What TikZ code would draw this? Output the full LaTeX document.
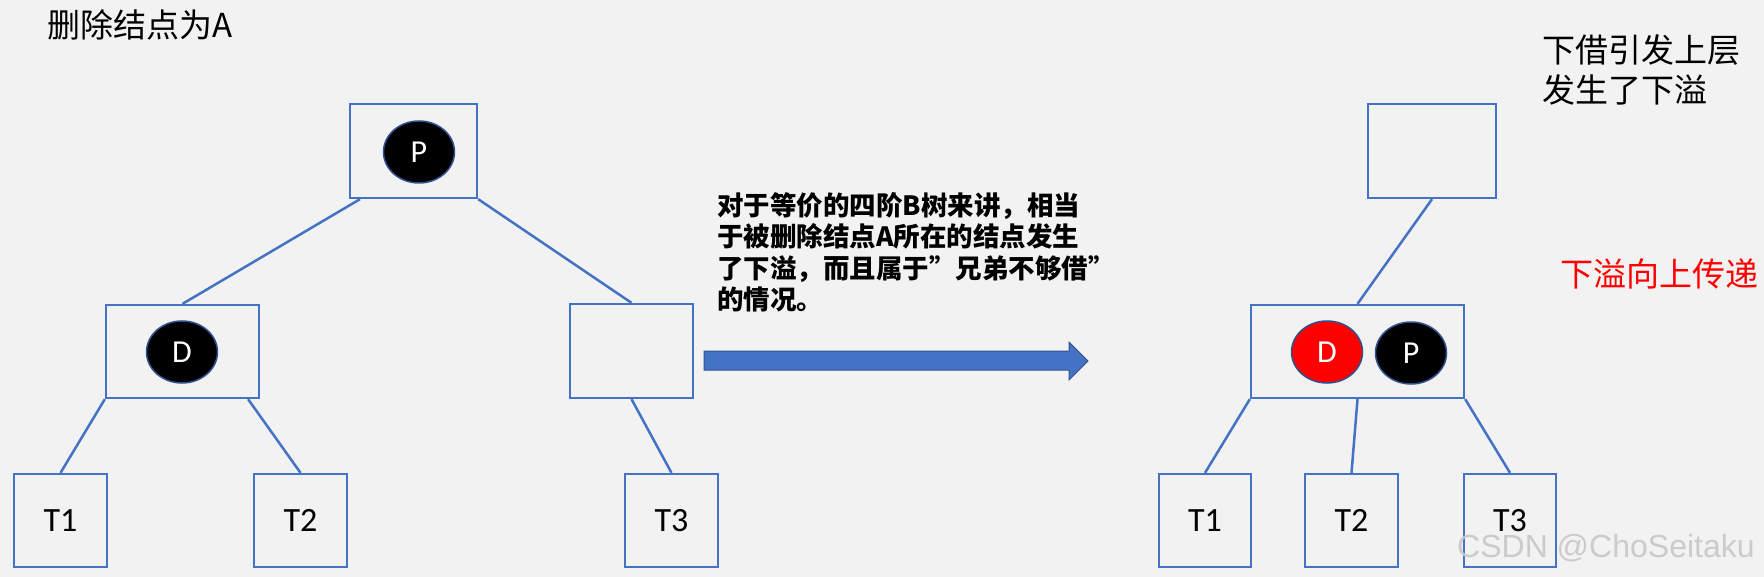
\documentclass[tikz,border=0pt]{standalone}
\usepackage{fontspec}
\setmainfont{Carlito}
\newfontfamily\cjk{Noto Sans CJK SC}
\newfontfamily\wmfont{Liberation Sans}
\usepackage{xcolor}
\definecolor{btbg}{HTML}{F2F2F2}
\definecolor{btblue}{HTML}{4472C4}
\definecolor{btdark}{HTML}{2F528F}
\definecolor{btred}{HTML}{FF0000}
\usetikzlibrary{shapes.geometric}

\begin{document}
\begin{tikzpicture}[x=1pt,y=-1pt,
  tbox/.style={draw=btblue,line width=2.3pt,inner sep=0pt,font=\fontsize{34}{40}\selectfont},
  tkey/.style={ellipse,draw=btdark,line width=1.5pt,fill=black,text=white,inner sep=0pt,
    minimum width=71pt,minimum height=62pt,font=\fontsize{32}{38}\selectfont},
  tedge/.style={btblue,line width=2.5pt}]
  \fill[btbg] (0,0) rectangle (1764,577);
  \node[anchor=north west,inner sep=0pt,font=\cjk\fontsize{33}{40}\selectfont] (title) at (47,9) {删除结点为A};
  % left tree
  \node[tbox,minimum width=127pt,minimum height=94pt] (pbox) at (413.5,151) {};
  \node[tkey] (pkey) at (419,152) {P};
  \node[tbox,minimum width=153pt,minimum height=93pt] (dbox) at (182.5,351.5) {};
  \node[tkey] (dkey) at (182,352) {D};
  \node[tbox,minimum width=123pt,minimum height=94pt] (ebox) at (631.5,351) {};
  \node[tbox,minimum width=93pt,minimum height=93pt] (t1) at (60.5,520.5) {T1};
  \node[tbox,minimum width=93pt,minimum height=93pt] (t2) at (300.5,520.5) {T2};
  \node[tbox,minimum width=93pt,minimum height=93pt] (t3) at (671.5,520.5) {T3};
  \draw[tedge] (pbox.222) -- (dbox.north);
  \draw[tedge] (pbox.south east) -- (ebox.north);
  \draw[tedge] (dbox.south west) -- (t1.north);
  \draw[tedge] (dbox.324) -- (t2.north);
  \draw[tedge] (ebox.south) -- (t3.north);
  % middle
  \node[anchor=north west,inner sep=0pt,align=left,font=\cjk\bfseries\fontsize{26.5}{31.5}\selectfont] (note) at (717,192)
    {对于等价的四阶B树来讲，相当\\于被删除结点A所在的结点发生\\了下溢，而且属于”兄弟不够借”\\的情况。};
  \filldraw[fill=btblue,draw=btdark,line width=1pt] (704,351) -- (1069,351) -- (1069,342) -- (1088,361)
    -- (1069,380) -- (1069,370) -- (704,370) -- cycle;
  % right tree
  \node[tbox,minimum width=128pt,minimum height=94pt] (topbox) at (1432,151) {};
  \node[tbox,minimum width=213pt,minimum height=93pt] (mbox) at (1357.5,351.5) {};
  \node[tkey,fill=btred] (rdkey) at (1327,352) {D};
  \node[tkey] (rpkey) at (1411,353) {P};
  \node[tbox,minimum width=92pt,minimum height=93pt] (u1) at (1205,520.5) {T1};
  \node[tbox,minimum width=93pt,minimum height=93pt] (u2) at (1351.5,520.5) {T2};
  \node[tbox,minimum width=92pt,minimum height=93pt] (u3) at (1510,520.5) {T3};
  \draw[tedge] (topbox.south) -- (mbox.north);
  \draw[tedge] (mbox.south west) -- (u1.north);
  \draw[tedge] (mbox.south) -- (u2.north);
  \draw[tedge] (mbox.south east) -- (u3.north);
  \node[anchor=north west,inner sep=0pt,align=left,font=\cjk\fontsize{33}{40}\selectfont] (upnote) at (1542,34)
    {下借引发上层\\发生了下溢};
  \node[anchor=north west,inner sep=0pt,text=btred,font=\cjk\fontsize{33}{40}\selectfont] (rednote) at (1560,258) {下溢向上传递};
  \node[anchor=base west,inner sep=0pt,text=black!22,opacity=0.9,font=\wmfont\fontsize{32}{38}\selectfont] (mark) at (1457,557) {CSDN @ChoSeitaku};
\end{tikzpicture}
\end{document}
